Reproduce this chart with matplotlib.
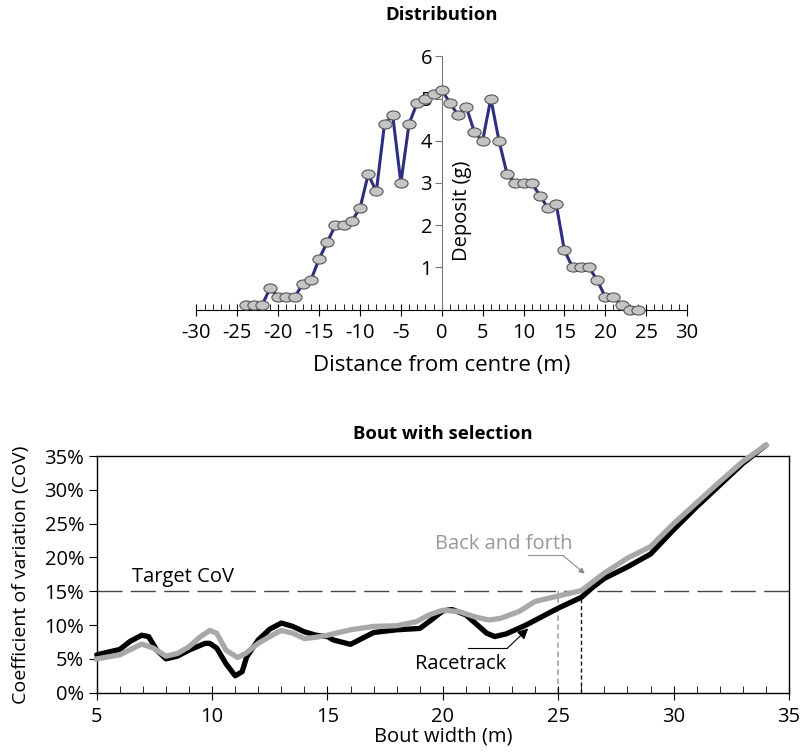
import numpy as np
import matplotlib
matplotlib.use('Agg')
import matplotlib.pyplot as plt
from matplotlib.path import Path
from matplotlib.transforms import Affine2D
from matplotlib.ticker import MultipleLocator, FuncFormatter

plt.rcParams['font.family'] = ['Open Sans', 'DejaVu Sans']
plt.rcParams['axes.unicode_minus'] = False

# --- Distribution (top panel) ---
dist_x = list(range(-24, 25))
deposit = [0.1, 0.1, 0.1, 0.5, 0.3, 0.3, 0.3, 0.6, 0.7, 1.2, 1.6, 2.0, 2.0, 2.1,
           2.4, 3.2, 2.8, 4.4, 4.6, 3.0, 4.4, 4.9, 5.0, 5.1, 5.2,
           4.9, 4.6, 4.8, 4.2, 4.0, 5.0, 4.0, 3.2, 3.0, 3.0, 3.0, 2.7, 2.4, 2.5,
           1.4, 1.0, 1.0, 1.0, 0.7, 0.3, 0.3, 0.1, 0.0, 0.0]

# --- Bout with selection (bottom panel) ---
race_x = [5, 6, 6.45, 6.95, 7.25, 7.6, 8, 8.5, 9, 9.7, 9.9, 10.2, 10.6, 11, 11.3,
          11.5, 12, 12.5, 13, 13.5, 14, 14.5, 15, 15.25, 16, 17, 18, 19, 19.4, 20,
          20.4, 21, 21.4, 21.9, 22.25, 22.75, 23.6, 25, 26, 26.5, 27, 28, 29, 30,
          31, 32, 33, 34]
race_y = [5.6, 6.4, 7.6, 8.5, 8.3, 6.3, 5.0, 5.4, 6.3, 7.3, 7.3, 6.6, 4.3, 2.5, 3.1,
          5.3, 7.8, 9.4, 10.3, 9.8, 9.0, 8.5, 8.3, 7.8, 7.15, 8.9, 9.3, 9.5, 10.5,
          12.1, 12.3, 11.5, 10.3, 8.8, 8.3, 8.7, 10.0, 12.5, 14.1, 15.6, 16.9, 18.6,
          20.5, 24.1, 27.5, 30.7, 33.9, 36.6]
back_x = [5, 6, 6.95, 7.45, 8, 8.5, 9, 9.5, 9.9, 10.2, 10.6, 11.1, 11.45, 12, 12.6,
          13, 13.5, 14, 14.5, 15, 16, 17, 18, 18.85, 19.4, 20, 20.7, 21.4, 22, 22.5,
          23.3, 24, 25, 26, 26.5, 27, 28, 29, 30, 31, 32, 33, 34]
back_y = [5.0, 5.6, 7.2, 6.6, 5.4, 5.8, 6.8, 8.3, 9.2, 8.8, 6.3, 5.2, 5.8, 7.3, 8.5,
          9.2, 8.8, 8.0, 8.2, 8.5, 9.3, 9.8, 9.9, 10.5, 11.5, 12.2, 12.0, 11.2,
          10.75, 11.0, 12.0, 13.5, 14.3, 15.1, 16.4, 17.7, 19.9, 21.6, 25.0, 28.1,
          31.2, 34.2, 36.6]
target_cov = 15
back_cross = 25
race_cross = 26

W, H = 801, 756
fig = plt.figure(figsize=(W / 100, H / 100), dpi=100)
fs = 14.5

# top panel
ax1 = fig.add_axes([196.5 / W, 1 - 309.5 / H, (687 - 196.5) / W, (309.5 - 56.3) / H])
ell = Path.unit_circle().transformed(Affine2D().scale(1.45, 1.0))
ax1.plot(dist_x, deposit, color='#2e2e80', lw=2.2, marker=ell, ms=9.5,
         mfc='#c4c4c4', mec='#555555', mew=0.8, clip_on=False, zorder=3)
ax1.set_xlim(-30, 30)
ax1.set_ylim(0, 6)
ax1.spines['left'].set_position(('data', 0))
ax1.spines['left'].set_color('#777777')
ax1.spines['top'].set_visible(False)
ax1.spines['right'].set_visible(False)
ax1.xaxis.set_major_locator(MultipleLocator(5))
ax1.xaxis.set_minor_locator(MultipleLocator(1))
ax1.set_yticks([1, 2, 3, 4, 5, 6])
ax1.tick_params(axis='x', which='major', direction='inout', length=8, labelsize=fs,
                pad=6)
ax1.tick_params(axis='x', which='minor', direction='in', length=4)
ax1.tick_params(axis='y', direction='out', length=5, labelsize=fs, color='#777777',
                pad=2)
ax1.set_xlabel('Distance from centre (m)', fontsize=16, labelpad=8)
ax1.text(2.5, 2.35, 'Deposit (g)', rotation=90, ha='center', va='center', fontsize=fs)
ax1.set_title('Distribution', fontsize=13.3, fontweight='bold', pad=26)

# bottom panel
ax2 = fig.add_axes([96.7 / W, 1 - 692.7 / H, (789 - 96.7) / W, (692.7 - 456) / H])
ax2.axhline(target_cov, color='#444444', lw=1.0, dashes=(18, 6), zorder=1)
ax2.plot([back_cross, back_cross], [0, target_cov], color='#aaaaaa', lw=1.3,
         dashes=(3, 2), zorder=1)
ax2.plot([race_cross, race_cross], [0, 14.1], color='#111111', lw=1.0,
         dashes=(3, 2), zorder=1)
ax2.plot(race_x, race_y, color='black', lw=3.8, solid_joinstyle='round',
         solid_capstyle='round', clip_on=False, zorder=3)
ax2.plot(back_x, back_y, color='#a8a8a8', lw=3.8, solid_joinstyle='round',
         clip_on=False, zorder=4)
ax2.set_xlim(5, 35)
ax2.set_ylim(0, 35)
ax2.xaxis.set_major_locator(MultipleLocator(5))
ax2.xaxis.set_minor_locator(MultipleLocator(1))
ax2.yaxis.set_major_locator(MultipleLocator(5))
ax2.yaxis.set_major_formatter(FuncFormatter(lambda v, p: '%d%%' % v))
ax2.tick_params(axis='x', which='major', direction='inout', length=10, labelsize=fs,
                pad=5)
ax2.tick_params(axis='x', which='minor', direction='in', length=5)
ax2.tick_params(axis='y', direction='out', length=6, labelsize=fs, pad=3)
for s in ax2.spines.values():
    s.set_linewidth(1.0)
ax2.set_xlabel('Bout width (m)', fontsize=fs, labelpad=0)
ax2.set_ylabel('Coefficient of variation (CoV)', fontsize=14)
ax2.yaxis.set_label_coords(-0.097, 0.5)
ax2.set_title('Bout with selection', fontsize=13.3, fontweight='bold', pad=12)

ax2.text(6.55, 15.7, 'Target CoV', fontsize=fs, ha='left', va='bottom')

ax2.text(22.65, 22.0, 'Back and forth', fontsize=fs, color='#999999',
         ha='center', va='center')
ax2.plot([23.7, 25.2], [20.3, 20.3], color='#999999', lw=0.8)
ax2.annotate('', xy=(26.15, 17.6), xytext=(25.2, 20.3),
             arrowprops=dict(arrowstyle='-|>', color='#888888', lw=0.8,
                             mutation_scale=8, shrinkA=0, shrinkB=0))

ax2.text(20.75, 4.25, 'Racetrack', fontsize=fs, ha='center', va='center')
ax2.plot([21.1, 22.8], [6.6, 6.6], color='black', lw=0.8)
ax2.annotate('', xy=(23.7, 9.5), xytext=(22.8, 6.6),
             arrowprops=dict(arrowstyle='-|>', color='black', lw=0.8,
                             mutation_scale=16, shrinkA=0, shrinkB=0))

fig.savefig('out.png', dpi=100)
